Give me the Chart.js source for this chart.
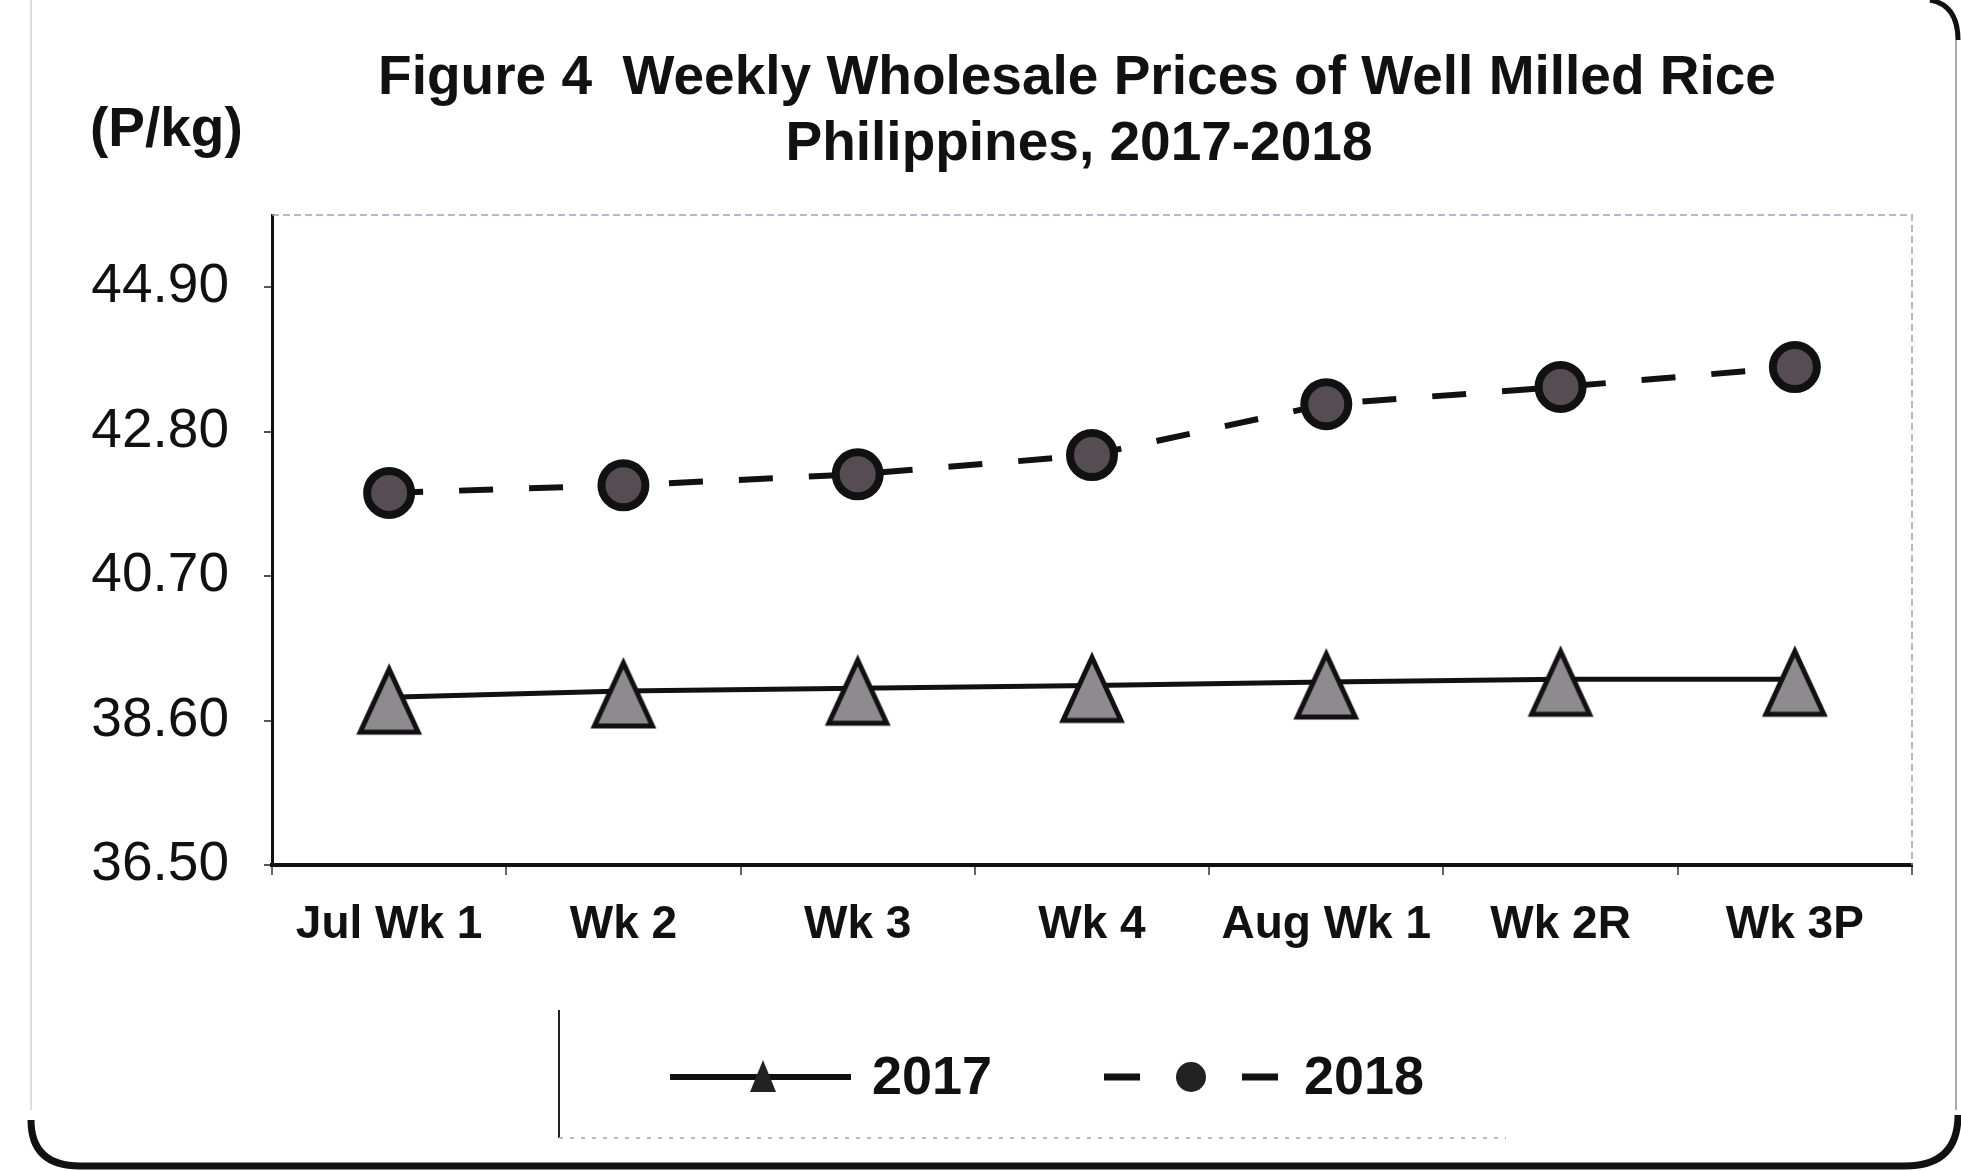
<!DOCTYPE html>
<html><head><meta charset="utf-8">
<style>html,body{margin:0;padding:0;background:#fff;} #wrap{position:relative;width:1961px;height:1171px;} canvas{display:block;}</style>
<script src="https://cdn.jsdelivr.net/npm/chart.js@4.4.0/dist/chart.umd.min.js"></script>
</head><body><div id="wrap"><canvas id="c" width="1961" height="1171"></canvas></div>
<script>
const categories = ['Jul Wk 1', 'Wk 2', 'Wk 3', 'Wk 4', 'Aug Wk 1', 'Wk 2R', 'Wk 3P'];
const prices2017 = [38.94, 39.03, 39.07, 39.11, 39.16, 39.20, 39.20];
const prices2018 = [41.91, 42.02, 42.18, 42.46, 43.20, 43.45, 43.74];
const yTicks = [36.50, 38.60, 40.70, 42.80, 44.90];
const yTickLabels = ['36.50', '38.60', '40.70', '42.80', '44.90'];
const seriesNames = ['2017', '2018'];
const titleLines = ['Figure 4  Weekly Wholesale Prices of Well Milled Rice', 'Philippines, 2017-2018'];
const unitLabel = '(P/kg)';

const FONT = '"Liberation Sans", Arial, Helvetica, sans-serif';

function makeTriangle(w, hAbove, hBelow, fill, stroke, lw) {
  const half = Math.max(hAbove, hBelow) + lw;
  const c = document.createElement('canvas');
  c.width = Math.ceil(w + lw * 2); c.height = Math.ceil(half * 2);
  const g = c.getContext('2d');
  const cx = c.width / 2, cy = c.height / 2;
  g.beginPath();
  g.moveTo(cx, cy - hAbove);
  g.lineTo(cx + w / 2, cy + hBelow);
  g.lineTo(cx - w / 2, cy + hBelow);
  g.closePath();
  g.fillStyle = fill; g.fill();
  g.lineJoin = 'miter'; g.lineWidth = lw; g.strokeStyle = stroke; g.stroke();
  return c;
}
const triMarker = makeTriangle(58, 28, 35, '#8e8b8f', '#111', 5);

const decor = {
  id: 'decor',
  beforeDatasetsDraw(chart) {
    const { ctx, chartArea: a } = chart;
    ctx.save();
    ctx.strokeStyle = 'rgba(150,150,195,0.7)';
    ctx.lineWidth = 2;
    ctx.setLineDash([7, 4]);
    ctx.beginPath();
    ctx.moveTo(a.left, a.top); ctx.lineTo(a.right, a.top); ctx.lineTo(a.right, a.bottom);
    ctx.stroke();
    ctx.restore();
  },
  afterDraw(chart) {
    const { ctx } = chart;
    ctx.save();
    // outer frame
    ctx.strokeStyle = '#ddd'; ctx.lineWidth = 2;
    ctx.beginPath(); ctx.moveTo(31, 0); ctx.lineTo(31, 1110); ctx.stroke();
    ctx.strokeStyle = '#aaa';
    ctx.beginPath(); ctx.moveTo(1956, 40); ctx.lineTo(1956, 1110); ctx.stroke();
    ctx.strokeStyle = '#111'; ctx.lineWidth = 7;
    ctx.beginPath();
    ctx.moveTo(31, 1120); ctx.quadraticCurveTo(31, 1166, 80, 1166);
    ctx.lineTo(1905, 1166); ctx.quadraticCurveTo(1958, 1166, 1958, 1115);
    ctx.stroke();
    ctx.lineWidth = 5;
    ctx.beginPath(); ctx.moveTo(1930, 0); ctx.quadraticCurveTo(1958, 5, 1958, 40); ctx.stroke();

    // title
    ctx.fillStyle = '#111';
    ctx.font = 'bold 55px ' + FONT;
    ctx.textBaseline = 'middle'; ctx.textAlign = 'center';
    ctx.fillText(titleLines[0], 1077, 79);
    ctx.fillText(titleLines[1], 1079, 145);

    // unit label
    ctx.textAlign = 'left';
    ctx.fillText(unitLabel, 90, 131);

    // legend frame
    ctx.strokeStyle = '#222'; ctx.lineWidth = 2;
    ctx.beginPath(); ctx.moveTo(559, 1010); ctx.lineTo(559, 1138); ctx.stroke();
    ctx.strokeStyle = '#bbb'; ctx.setLineDash([4, 7]);
    ctx.beginPath(); ctx.moveTo(559, 1138); ctx.lineTo(1506, 1138); ctx.stroke();
    ctx.setLineDash([]);

    // legend items
    const ly = 1077;
    ctx.strokeStyle = '#111'; ctx.lineWidth = 6;
    ctx.beginPath(); ctx.moveTo(670, ly); ctx.lineTo(851, ly); ctx.stroke();
    ctx.fillStyle = '#222';
    ctx.beginPath(); ctx.moveTo(763, ly - 17); ctx.lineTo(776, ly + 15); ctx.lineTo(750, ly + 15); ctx.closePath(); ctx.fill();
    ctx.lineWidth = 7;
    ctx.beginPath(); ctx.moveTo(1104, ly); ctx.lineTo(1140, ly); ctx.moveTo(1242, ly); ctx.lineTo(1278, ly); ctx.stroke();
    ctx.beginPath(); ctx.arc(1191, ly, 15, 0, Math.PI * 2); ctx.fill();
    ctx.fillStyle = '#111';
    ctx.font = 'bold 54px ' + FONT;
    ctx.fillText(seriesNames[0], 872, ly + 2);
    ctx.fillText(seriesNames[1], 1304, ly + 2);
    ctx.restore();
  }
};

new Chart(document.getElementById('c'), {
  type: 'line',
  data: {
    labels: categories,
    datasets: [
      {
        label: seriesNames[0], data: prices2017,
        borderColor: '#111', borderWidth: 5, fill: false, tension: 0,
        pointStyle: triMarker, pointRadius: 30, pointHoverRadius: 30
      },
      {
        label: seriesNames[1], data: prices2018,
        borderColor: '#111', borderWidth: 6, borderDash: [34, 36], fill: false, tension: 0,
        pointStyle: 'circle', pointRadius: 22, pointHoverRadius: 22,
        pointBackgroundColor: '#564d52', pointBorderColor: '#111', pointBorderWidth: 8
      }
    ]
  },
  options: {
    responsive: false, animation: false, devicePixelRatio: 1,
    layout: { padding: { top: 215, right: 49, bottom: 0, left: 0 } },
    plugins: {
      legend: { display: false },
      tooltip: { enabled: false },
      title: { display: false }
    },
    scales: {
      x: {
        type: 'category', offset: true,
        grid: { display: true, drawOnChartArea: false, drawTicks: true, tickLength: 10, tickColor: '#666', lineWidth: 2, offset: true },
        border: { display: true, color: '#111', width: 4 },
        ticks: { color: '#111', font: { family: FONT, size: 46, weight: 'bold' }, padding: 23, maxRotation: 0, autoSkip: false },
        afterFit(s) { s.height = 306; }
      },
      y: {
        type: 'linear', min: 36.5, max: 45.95,
        afterBuildTicks(s) { s.ticks = yTicks.map(v => ({ value: v })); },
        grid: { display: true, drawOnChartArea: false, drawTicks: true, tickLength: 8, tickColor: '#555', lineWidth: 2 },
        border: { display: true, color: '#111', width: 3 },
        ticks: {
          color: '#111', padding: 35,
          font: { family: FONT, size: 55, weight: 'normal' },
          callback: (v, i) => yTickLabels[i]
        },
        afterFit(s) { s.width = 272; }
      }
    }
  },
  plugins: [decor]
});
</script>
</body></html>
